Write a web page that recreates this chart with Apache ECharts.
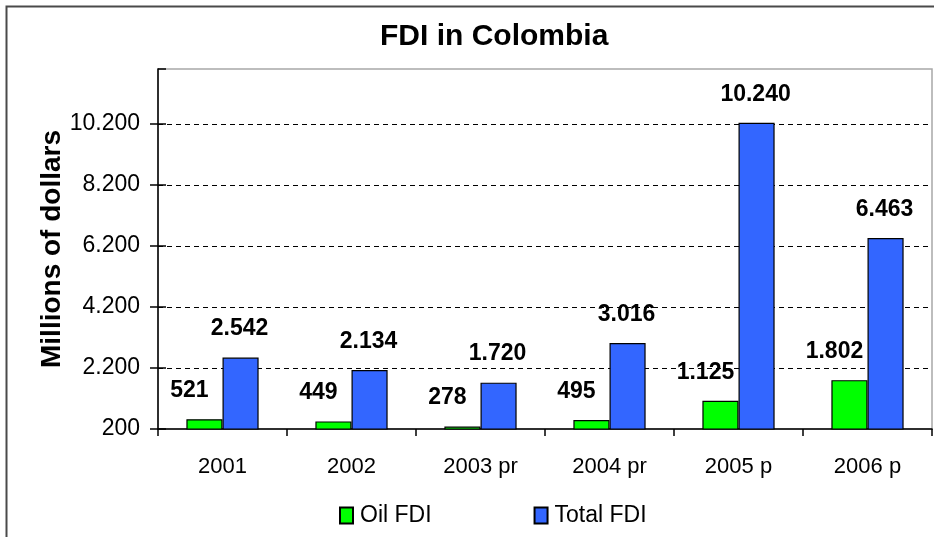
<!DOCTYPE html>
<html>
<head>
<meta charset="utf-8">
<script src="https://cdn.jsdelivr.net/npm/echarts@6/dist/echarts.min.js"></script>
<style>html,body{margin:0;padding:0;background:#fff}#c{width:934px;height:537px}</style>
</head>
<body>
<div id="c"></div>
<script>
const categories = ['2001', '2002', '2003 pr', '2004 pr', '2005 p', '2006 p'];
const oilFDI = [521, 449, 278, 495, 1125, 1802];
const totalFDI = [2542, 2134, 1720, 3016, 10240, 6463];
const yTicks = [200, 2200, 4200, 6200, 8200, 10200];

const SANS = '"Liberation Sans", Arial, sans-serif';
function fmt(v) { return String(v).replace(/\B(?=(\d{3})+(?!\d))/g, '.'); }

const chart = echarts.init(document.getElementById('c'), null, {renderer: 'canvas'});
const yMin = yTicks[0];
const yInterval = yTicks[1] - yTicks[0];
const yMax = 12000;

chart.setOption({
  animation: false,
  backgroundColor: '#fff',
  title: {
    text: 'FDI in Colombia',
    left: 375, top: 17,
    textStyle: {fontFamily: SANS, fontSize: 30, fontWeight: 'bold', color: '#000'}
  },
  graphic: [{
    type: 'rect', left: 4, top: 4, z: 100, silent: true,
    shape: {width: 1000, height: 1000},
    style: {fill: 'none', stroke: '#4a4a4a', lineWidth: 2}
  }],
  legend: {
    left: 334, top: 499,
    itemWidth: 13, itemHeight: 16, itemGap: 102, icon: 'rect',
    textStyle: {fontFamily: SANS, fontSize: 23, color: '#000', padding: [0, 0, 0, 2]},
    data: ['Oil FDI', 'Total FDI']
  },
  grid: {
    left: 158, right: 2, top: 69, bottom: 108,
    show: true, borderColor: '#a8a8a8', borderWidth: 1.5, backgroundColor: '#fff'
  },
  xAxis: {
    type: 'category', data: categories,
    axisLine: {lineStyle: {color: '#000', width: 1.5}},
    axisTick: {show: true, length: 7, lineStyle: {color: '#000', width: 1.5}},
    axisLabel: {fontFamily: SANS, fontSize: 22, color: '#000', margin: 27}
  },
  yAxis: [{
    type: 'value', min: yMin, max: yMax, interval: yInterval,
    name: 'Millions of dollars', nameLocation: 'middle', nameGap: 92, nameRotate: 90,
    nameMoveOverlap: false,
    nameTextStyle: {fontFamily: SANS, fontSize: 28, fontWeight: 'bold', color: '#000'},
    axisLine: {show: true, lineStyle: {color: '#000', width: 1.5}},
    axisTick: {show: true, length: 8, lineStyle: {color: '#000', width: 1.5}},
    axisLabel: {fontFamily: SANS, fontSize: 23, color: '#000', margin: 18, showMaxLabel: false, formatter: v => fmt(v)},
    splitLine: {show: true, showMinLine: false, showMaxLine: false, lineStyle: {color: '#000', type: [5, 4], width: 1}}
  }, {
    type: 'value', min: yMin, max: yMax, interval: yInterval, position: 'left',
    axisLine: {show: false},
    axisTick: {show: true, inside: true, length: 8, lineStyle: {color: '#000', width: 1.5}},
    axisLabel: {show: false},
    splitLine: {show: false}
  }],
  series: [{
    name: 'Oil FDI', type: 'bar', data: oilFDI,
    barGap: '0%', barCategoryGap: '44%',
    itemStyle: {color: '#00ff00', borderColor: '#000', borderWidth: 1.2},
    label: {show: true, position: 'top', distance: 17, offset: [-15, 0],
      fontFamily: SANS, fontSize: 23, fontWeight: 'bold', color: '#000', formatter: p => fmt(p.value)}
  }, {
    name: 'Total FDI', type: 'bar', data: totalFDI,
    barGap: '0%', barCategoryGap: '44%',
    itemStyle: {color: '#3366ff', borderColor: '#000', borderWidth: 1.2},
    label: {show: true, position: 'top', distance: 17, offset: [-1, 0],
      fontFamily: SANS, fontSize: 23, fontWeight: 'bold', color: '#000', formatter: p => fmt(p.value)}
  }]
});
</script>
</body>
</html>
